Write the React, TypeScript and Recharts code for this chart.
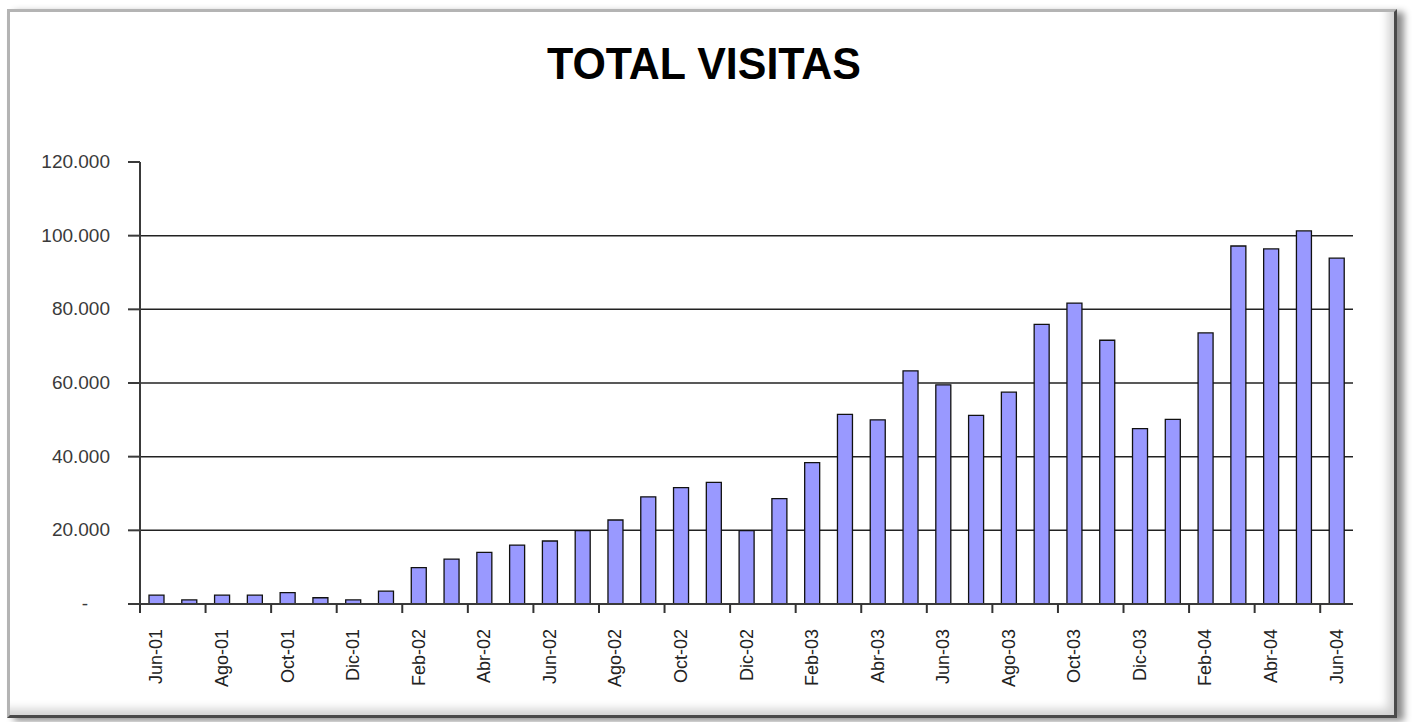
import React from 'react'
import { BarChart, Bar, XAxis, YAxis, CartesianGrid } from 'recharts'

// monthly visits, Jun-01 .. Jun-04
const months = [
  'Jun-01', 'Jul-01', 'Ago-01', 'Sep-01', 'Oct-01', 'Nov-01', 'Dic-01',
  'Ene-02', 'Feb-02', 'Mar-02', 'Abr-02', 'May-02', 'Jun-02', 'Jul-02', 'Ago-02', 'Sep-02', 'Oct-02', 'Nov-02', 'Dic-02',
  'Ene-03', 'Feb-03', 'Mar-03', 'Abr-03', 'May-03', 'Jun-03', 'Jul-03', 'Ago-03', 'Sep-03', 'Oct-03', 'Nov-03', 'Dic-03',
  'Ene-04', 'Feb-04', 'Mar-04', 'Abr-04', 'May-04', 'Jun-04',
]

const visitas = [
  2400, 1100, 2400, 2400, 3100, 1700, 1100,
  3500, 9900, 12200, 14000, 16000, 17100, 19900, 22800, 29100, 31600, 33000, 19900,
  28600, 38400, 51500, 50000, 63300, 59500, 51200, 57500, 75900, 81700, 71600, 47600,
  50100, 73600, 97200, 96400, 101300, 93900,
]

const yTicks = [0, 20000, 40000, 60000, 80000, 100000, 120000]
const gridValues = [20000, 40000, 60000, 80000, 100000]

const W = 1414
const H = 722
const PLOT_LEFT = 140
const PLOT_RIGHT = 1353
const PLOT_TOP = 162
const PLOT_BOTTOM = 604
const BAND = (PLOT_RIGHT - PLOT_LEFT) / months.length

const FONT = '"Liberation Sans", Arial, sans-serif'

const data = months.map((mes, i) => ({ mes, visitas: visitas[i] }))

const fmt = (v: number) => String(v).replace(/\B(?=(\d{3})+(?!\d))/g, '.')

function ValueTick({ x, y, payload }: any) {
  const v = payload.value
  return (
    <text x={v === 0 ? x - 22 : x} y={y} dy={6} textAnchor="end" fontSize={19} fill="#3a3a3a" fontFamily={FONT}>
      {v === 0 ? '-' : fmt(v)}
    </text>
  )
}

function MonthTick({ x, payload }: any) {
  const tx = x - BAND / 2
  return (
    <g>
      <line x1={tx} x2={tx} y1={PLOT_BOTTOM} y2={PLOT_BOTTOM + 9} stroke="#333" strokeWidth={2} />
      <text
        transform={`translate(${x + 6},${PLOT_BOTTOM + 25}) rotate(-90)`}
        textAnchor="end"
        fontSize={18}
        fill="#222"
        fontFamily={FONT}
      >
        {payload.value}
      </text>
    </g>
  )
}

export default function App() {
  return (
    <div style={{ position: 'absolute', left: 0, top: 0, width: W, height: H, background: '#fff', overflow: 'hidden' }}>
      {/* chart frame with bevel + drop shadow */}
      <div
        style={{
          position: 'absolute',
          left: 7,
          top: 9,
          width: 1390,
          height: 709,
          boxSizing: 'border-box',
          borderStyle: 'solid',
          borderWidth: 3,
          borderColor: '#b4b4b4 #4a4a4a #4a4a4a #b4b4b4',
          boxShadow: '7px 3px 7px rgba(0,0,0,0.45), inset -12px -12px 10px -6px rgba(0,0,0,0.18)',
        }}
      />
      <svg width={W} height={H} style={{ position: 'absolute', left: 0, top: 0 }}>
        <text x={704} y={79} textAnchor="middle" fontSize={44} fontWeight="bold" fontFamily={FONT} textLength={314} lengthAdjust="spacingAndGlyphs" fill="#000">
          TOTAL VISITAS
        </text>
      </svg>
      <div style={{ position: 'absolute', left: 0, top: 0 }}>
        <BarChart
          width={W}
          height={H}
          data={data}
          margin={{ top: PLOT_TOP, right: W - PLOT_RIGHT, left: 0, bottom: 0 }}
        >
          <CartesianGrid vertical={false} stroke="#222" strokeWidth={1.5} horizontalValues={gridValues} />
          <XAxis
            dataKey="mes"
            height={H - PLOT_BOTTOM}
            interval={1}
            tickLine={false}
            tick={<MonthTick />}
            axisLine={{ stroke: '#3a3a3a', strokeWidth: 2 }}
          />
          <XAxis xAxisId="top" dataKey="mes" orientation="top" height={0} tick={false} tickLine={false} axisLine={{ stroke: '#aaa', strokeWidth: 2 }} />
          <YAxis
            width={PLOT_LEFT}
            domain={[0, 120000]}
            ticks={yTicks}
            interval={0}
            tickSize={12}
            tickMargin={18}
            tickLine={{ stroke: '#3a3a3a', strokeWidth: 2 }}
            axisLine={{ stroke: '#3a3a3a', strokeWidth: 2 }}
            tick={<ValueTick />}
          />
          <YAxis yAxisId="right" orientation="right" width={0} domain={[0, 120000]} tick={false} tickLine={false} axisLine={{ stroke: '#aaa', strokeWidth: 2 }} />
          <Bar dataKey="visitas" fill="#9999ff" stroke="#111" strokeWidth={1.3} barSize={15} isAnimationActive={false} />
        </BarChart>
      </div>
    </div>
  )
}
